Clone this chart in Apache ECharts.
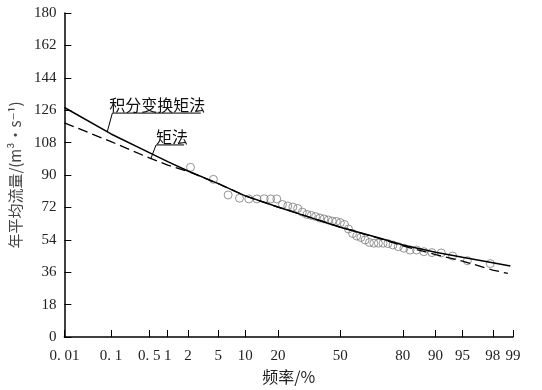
<!DOCTYPE html>
<html>
<head>
<meta charset="utf-8">
<script src="https://cdn.jsdelivr.net/npm/echarts@6/dist/echarts.min.js"></script>
<style>
html,body{margin:0;padding:0;background:#fff;}
#chart{width:542px;height:390px;}
</style>
</head>
<body>
<div id="chart"></div>
<script>
// ---- data (frequencies in %, discharge in m3/s) ----
const freqTicks = [0.01, 0.1, 0.5, 1, 2, 5, 10, 20, 50, 80, 90, 95, 98, 99];
const freqTickLabels = ['0. 01', '0. 1', '0. 5', '1', '2', '5', '10', '20', '50', '80', '90', '95', '98', '99'];
const yMin = 0, yMax = 180, yStep = 18;

const solidFreq = [0.01, 0.1, 0.5, 1, 2, 5, 10, 20, 30, 50, 70, 80, 90, 95, 98, 98.9];
const solidValues = [127.5, 112.8, 102.4, 97.4, 92.2, 85.2, 78.4, 72.2, 68.0, 61.0, 55.0, 51.1, 47.1, 44.3, 41.2, 39.4];

const dashedFreq = [0.01, 0.1, 0.5, 1, 2, 5, 10, 20, 30, 50, 70, 80, 90, 95, 98, 98.8];
const dashedValues = [119.0, 108.5, 99.5, 95.5, 92.0, 85.2, 78.4, 72.2, 68.0, 61.0, 54.8, 50.6, 45.8, 42.2, 37.2, 35.3];

const obsFreq = [2.17, 4.35, 6.52, 8.70, 10.87, 13.04, 15.22, 17.39, 19.57, 21.74, 23.91, 26.09, 28.26, 30.43, 32.61,
  34.78, 36.96, 39.13, 41.30, 43.48, 45.65, 47.83, 50.00, 52.17, 54.35, 56.52, 58.70, 60.87, 63.04, 65.22,
  67.39, 69.57, 71.74, 73.91, 76.09, 78.26, 80.43, 82.61, 84.78, 86.96, 89.13, 91.30, 93.48, 95.65, 97.83];
const obsValues = [94.3, 87.6, 78.9, 77.1, 76.7, 76.7, 76.8, 76.7, 76.7, 73.6, 72.8, 72.2, 71.4, 69.4, 68.1,
  67.5, 66.9, 66.1, 65.6, 65.0, 64.4, 64.2, 63.5, 62.5, 60.0, 57.5, 56.1, 55.3, 53.9, 52.5,
  52.1, 52.1, 52.1, 51.9, 51.1, 50.2, 49.3, 48.3, 48.3, 47.4, 46.9, 46.7, 45.0, 42.4, 40.8];

const legendSolid = '积分变换矩法';
const legendDashed = '矩法';
const xName = '频率/%';
const yName = '年平均流量/(m³·s⁻¹)';

// ---- probability-paper transform (inverse normal CDF) ----
function probit(p) {
  const a = [-3.969683028665376e+01, 2.209460984245205e+02, -2.759285104469687e+02, 1.383577518672690e+02, -3.066479806614716e+01, 2.506628277459239e+00];
  const b = [-5.447609879822406e+01, 1.615858368580409e+02, -1.556989798598866e+02, 6.680131188771972e+01, -1.328068155288572e+01];
  const c = [-7.784894002430293e-03, -3.223964580411365e-01, -2.400758277161838e+00, -2.549732539343734e+00, 4.374664141464968e+00, 2.938163982698783e+00];
  const d = [7.784695709041462e-03, 3.224671290700398e-01, 2.445134137142996e+00, 3.754408661907416e+00];
  const pl = 0.02425, ph = 1 - pl;
  let q, r;
  if (p < pl) {
    q = Math.sqrt(-2 * Math.log(p));
    return (((((c[0]*q+c[1])*q+c[2])*q+c[3])*q+c[4])*q+c[5]) / ((((d[0]*q+d[1])*q+d[2])*q+d[3])*q+1);
  }
  if (p <= ph) {
    q = p - 0.5; r = q*q;
    return (((((a[0]*r+a[1])*r+a[2])*r+a[3])*r+a[4])*r+a[5])*q / (((((b[0]*r+b[1])*r+b[2])*r+b[3])*r+b[4])*r+1);
  }
  q = Math.sqrt(-2 * Math.log(1 - p));
  return -(((((c[0]*q+c[1])*q+c[2])*q+c[3])*q+c[4])*q+c[5]) / ((((d[0]*q+d[1])*q+d[2])*q+d[3])*q+1);
}
const zOf = pct => probit(pct / 100);
const tickZ = freqTicks.map(zOf);
const pairs = (fs, vs) => fs.map((f, i) => [zOf(f), vs[i]]);

// annotation leaders in data space: [curve point, elbow, underline end]
const annots = [
  { text: legendSolid, pts: [[0.084, 114.0], [0.106, 124.4], [3.0, 124.4]], dx: -3 },
  { text: legendDashed, pts: [[0.537, 99.4], [0.65, 106.7], [1.76, 106.7]], dx: 0 }
];

const serif = '"Liberation Serif", "DejaVu Serif", serif';
const cjk = '"Noto Sans CJK SC", "DejaVu Sans", sans-serif';

const chart = echarts.init(document.getElementById('chart'), null, { renderer: 'canvas' });

const option = {
  animation: false,
  backgroundColor: '#fff',
  grid: { left: 63, right: 29, top: 13, bottom: 53 },
  xAxis: {
    type: 'value',
    min: zOf(freqTicks[0]),
    max: zOf(freqTicks[freqTicks.length - 1]),
    name: xName,
    nameLocation: 'middle',
    nameGap: 32,
    nameTextStyle: { fontFamily: cjk, fontSize: 16, color: '#222' },
    axisLine: { onZero: false, lineStyle: { color: '#000', width: 1.5 } },
    axisTick: { inside: true, length: 7, lineStyle: { color: '#000', width: 1 }, customValues: tickZ },
    axisLabel: {
      customValues: tickZ,
      margin: 12,
      fontFamily: serif, fontSize: 15, color: '#222',
      formatter: v => {
        let best = 0;
        tickZ.forEach((z, i) => { if (Math.abs(z - v) < Math.abs(tickZ[best] - v)) best = i; });
        return freqTickLabels[best];
      }
    },
    splitLine: { show: false }
  },
  yAxis: {
    type: 'value',
    min: yMin, max: yMax, interval: yStep,
    name: yName,
    nameLocation: 'middle',
    nameGap: 28,
    nameRotate: 90,
    nameTextStyle: { fontFamily: cjk, fontSize: 15, color: '#444' },
    axisLine: { show: true, onZero: false, lineStyle: { color: '#000', width: 1.5 } },
    axisTick: { show: true, inside: true, length: 7, lineStyle: { color: '#000', width: 1 } },
    axisLabel: { margin: 8, fontFamily: serif, fontSize: 15, color: '#222' },
    splitLine: { show: false }
  },
  series: [
    {
      type: 'scatter', name: 'obs', z: 1,
      data: pairs(obsFreq, obsValues),
      symbol: 'circle', symbolSize: 8,
      itemStyle: { color: 'rgba(0,0,0,0)', borderColor: '#7a7a7a', borderWidth: 1 }
    },
    {
      type: 'line', name: legendSolid, z: 3,
      data: pairs(solidFreq, solidValues),
      showSymbol: false, symbol: 'none',
      lineStyle: { color: '#000', width: 1.5 }
    },
    {
      type: 'line', name: legendDashed, z: 2,
      data: pairs(dashedFreq, dashedValues),
      showSymbol: false, symbol: 'none',
      lineStyle: { color: '#000', width: 1.3, type: [10, 5] }
    }
  ].concat(annots.map(a => ({
    type: 'line', silent: true, z: 4,
    data: a.pts.map(p => [zOf(p[0]), p[1]]),
    showSymbol: false, symbol: 'none',
    lineStyle: { color: '#000', width: 1 }
  })))
};
chart.setOption(option);

// place annotation texts at the elbow of each leader
const graphics = annots.map(a => {
  const px = chart.convertToPixel({ gridIndex: 0 }, [zOf(a.pts[1][0]), a.pts[1][1]]);
  return {
    type: 'text',
    x: px[0] + a.dx, y: px[1],
    style: { text: a.text, font: '16px ' + cjk, fill: '#111', textAlign: 'left', textVerticalAlign: 'bottom' },
    z: 10
  };
});
chart.setOption({ graphic: graphics });
</script>
</body>
</html>
